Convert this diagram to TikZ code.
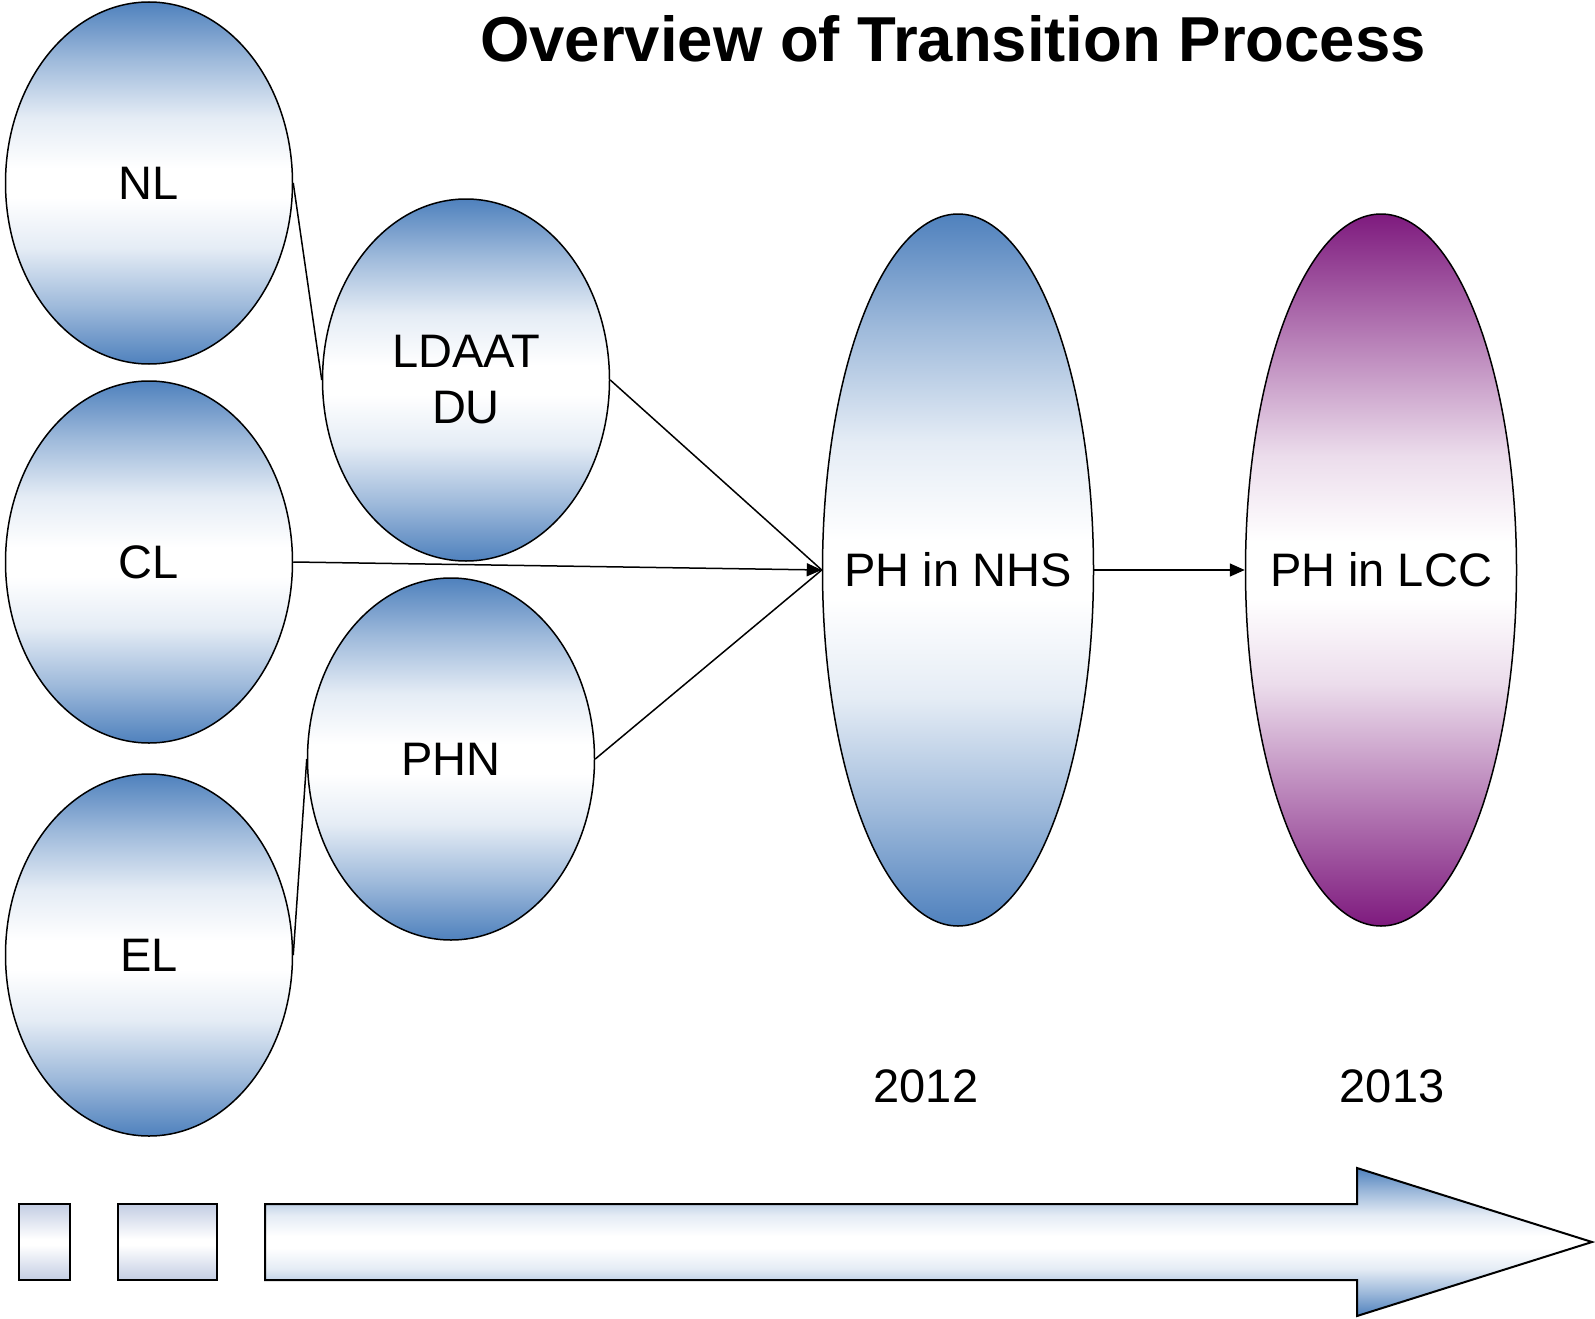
\documentclass[tikz,border=0pt]{standalone}
\usepackage{fontspec}
\setmainfont{Liberation Sans}
\usetikzlibrary{shapes.geometric,arrows.meta}
\definecolor{ablue}{HTML}{4F81BD}
\definecolor{apurple}{HTML}{7E1A7E}
\definecolor{alight}{HTML}{C3CDE3}
\colorlet{ablueh}{ablue!55!white}
\colorlet{ablueq}{ablue!15!white}
\colorlet{apurpleh}{apurple!55!white}
\colorlet{apurpleq}{apurple!15!white}
\pgfdeclareverticalshading{bluevert}{100bp}{color(0bp)=(ablue); color(25bp)=(ablue); color(33bp)=(ablueh); color(41bp)=(ablueq); color(48bp)=(white); color(52bp)=(white); color(59bp)=(ablueq); color(67bp)=(ablueh); color(75bp)=(ablue); color(100bp)=(ablue)}
\pgfdeclareverticalshading{purplevert}{100bp}{color(0bp)=(apurple); color(25bp)=(apurple); color(34bp)=(apurpleh); color(42bp)=(apurpleq); color(48bp)=(white); color(52bp)=(white); color(58bp)=(apurpleq); color(66bp)=(apurpleh); color(75bp)=(apurple); color(100bp)=(apurple)}
\pgfdeclareverticalshading{lightvert}{100bp}{color(0bp)=(alight); color(25bp)=(alight); color(48bp)=(white); color(52bp)=(white); color(75bp)=(alight); color(100bp)=(alight)}
\tikzset{
  blob/.style={ellipse, draw=black, line width=1.5pt, inner sep=0pt,
    shading=bluevert, font=\fontsize{47}{56}\selectfont, align=center},
  smallblob/.style={blob, minimum width=287pt, minimum height=362pt},
  bigblob/.style={blob, inner xsep=-40pt, minimum width=271pt, minimum height=712pt},
  link/.style={draw=black, line width=1.5pt},
  arrowlink/.style={link, -{Triangle[length=15pt,width=13pt]}},
  yearlabel/.style={font=\fontsize{47}{56}\selectfont},
  barbox/.style={draw=black, line width=2pt, shading=lightvert},
  bigarrow/.style={draw=black, line width=2pt, shading=bluevert}
}
\begin{document}
\begin{tikzpicture}[x=1pt,y=-1pt]
\useasboundingbox (0,0) rectangle (1595,1319);
\node[font=\bfseries\fontsize{63.5}{70}\selectfont] (title) at (953,39) {Overview of Transition Process};

\node[smallblob] (NL) at (149,183) {NL};
\node[smallblob] (CL) at (149,562) {CL};
\node[smallblob] (EL) at (149,955) {EL};
\node[smallblob] (LD) at (466,380) {LDAAT\\DU};
\node[smallblob] (PHN) at (451,759) {PHN};
\node[bigblob] (NHS) at (958,570) {PH in NHS};
\node[bigblob, shading=purplevert] (LCC) at (1381,570) {PH in LCC};

\draw[link] (NL.east) -- (LD.west);
\draw[link] (EL.east) -- (PHN.west);
\draw[link] (LD.east) -- (NHS.west);
\draw[link] (PHN.east) -- (NHS.west);
\draw[arrowlink] (CL.east) -- (NHS.west);
\draw[arrowlink] (NHS.east) -- (LCC.west);

\node[yearlabel] (y2012) at (926,1086) {2012};
\node[yearlabel] (y2013) at (1392,1086) {2013};

\path[barbox] (19,1204) rectangle (70,1280);
\path[barbox] (118,1204) rectangle (217,1280);
\path[bigarrow] (265,1204) -- (1357,1204) -- (1357,1168) -- (1592,1242) -- (1357,1316) -- (1357,1280) -- (265,1280) -- cycle;
\end{tikzpicture}
\end{document}
